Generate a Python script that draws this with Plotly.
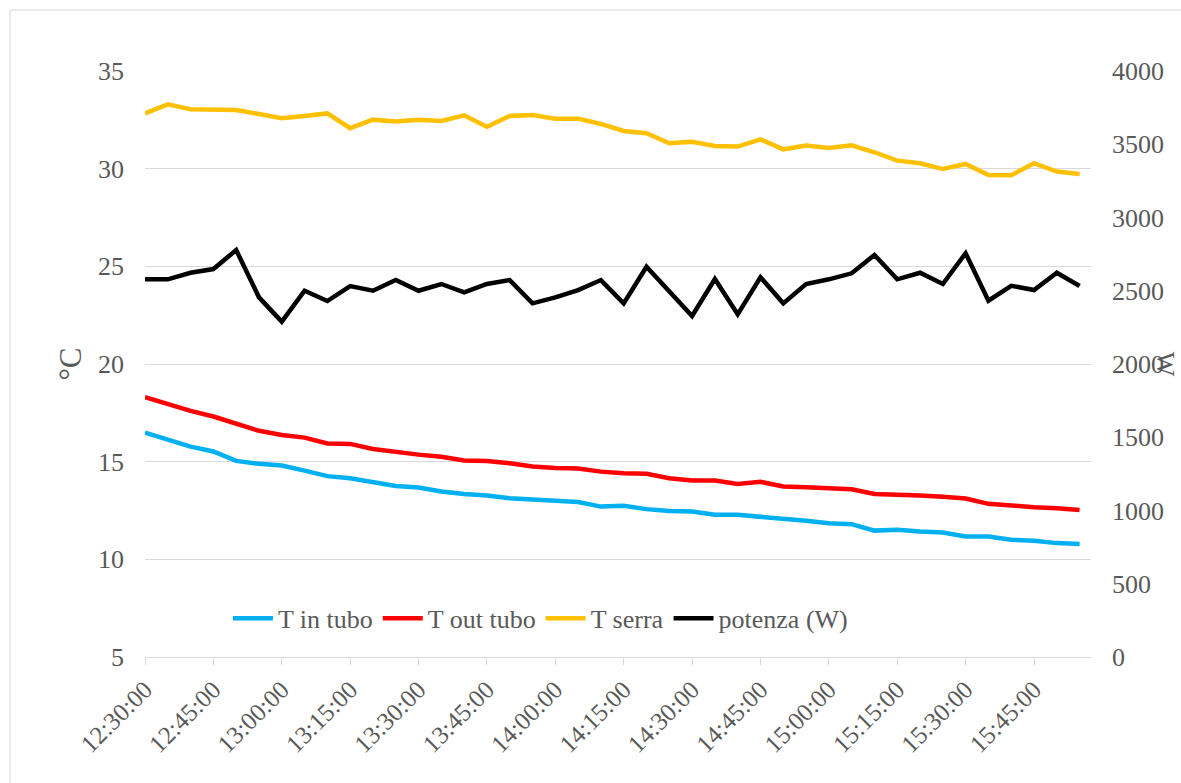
import plotly.graph_objects as go

# orari di misura (ogni 5 minuti)
orari = ["12:30:00", "12:35:00", "12:40:00", "12:45:00", "12:50:00", "12:55:00",
         "13:00:00", "13:05:00", "13:10:00", "13:15:00", "13:20:00", "13:25:00",
         "13:30:00", "13:35:00", "13:40:00", "13:45:00", "13:50:00", "13:55:00",
         "14:00:00", "14:05:00", "14:10:00", "14:15:00", "14:20:00", "14:25:00",
         "14:30:00", "14:35:00", "14:40:00", "14:45:00", "14:50:00", "14:55:00",
         "15:00:00", "15:05:00", "15:10:00", "15:15:00", "15:20:00", "15:25:00",
         "15:30:00", "15:35:00", "15:40:00", "15:45:00", "15:50:00", "15:55:00"]

t_in_tubo = [16.49, 16.12, 15.77, 15.52, 15.04, 14.89, 14.80, 14.54, 14.26, 14.15,
             13.98, 13.76, 13.68, 13.47, 13.35, 13.27, 13.13, 13.05, 12.96, 12.93,
             12.70, 12.74, 12.57, 12.48, 12.45, 12.28, 12.28, 12.19, 12.11, 11.97,
             11.85, 11.80, 11.47, 11.51, 11.42, 11.37, 11.17, 11.17, 11.00, 10.95,
             10.83, 10.79]

t_out_tubo = [18.30, 17.94, 17.60, 17.31, 16.97, 16.58, 16.37, 16.23, 15.93, 15.91,
              15.65, 15.49, 15.36, 15.25, 15.06, 15.03, 14.92, 14.75, 14.67, 14.65,
              14.49, 14.41, 14.38, 14.15, 14.03, 14.03, 13.86, 13.97, 13.73, 13.69,
              13.62, 13.59, 13.35, 13.32, 13.27, 13.20, 13.11, 12.84, 12.74, 12.67,
              12.62, 12.53]

t_serra = [32.83, 33.29, 33.04, 33.02, 33.00, 32.80, 32.58, 32.70, 32.83, 32.07,
           32.51, 32.42, 32.51, 32.44, 32.73, 32.15, 32.70, 32.75, 32.56, 32.56,
           32.29, 31.93, 31.81, 31.30, 31.38, 31.16, 31.13, 31.50, 30.99, 31.18,
           31.06, 31.20, 30.84, 30.41, 30.28, 29.98, 30.24, 29.68, 29.66, 30.28,
           29.85, 29.73]

potenza = [2578, 2578, 2623, 2648, 2778, 2455, 2289, 2500, 2430, 2532,
           2500, 2573, 2500, 2546, 2489, 2546, 2573, 2414, 2455, 2505,
           2573, 2414, 2664, 2496, 2328, 2580, 2339, 2592, 2414, 2546,
           2578, 2619, 2744, 2578, 2623, 2546, 2756, 2432, 2534, 2505,
           2623, 2532]

etichette_x = orari[::3]

FONT = "Liberation Serif, Times New Roman, serif"
GRIGIO = "#595959"
GRIGLIA = "#d9d9d9"
SPESSORE = 4.5

fig = go.Figure()
fig.add_trace(go.Scatter(x=orari, y=t_in_tubo, name="T in tubo", mode="lines",
                         line=dict(color="#00B0F0", width=SPESSORE)))
fig.add_trace(go.Scatter(x=orari, y=t_out_tubo, name="T out tubo", mode="lines",
                         line=dict(color="#FF0000", width=SPESSORE)))
fig.add_trace(go.Scatter(x=orari, y=t_serra, name="T serra", mode="lines",
                         line=dict(color="#FFC000", width=SPESSORE)))
fig.add_trace(go.Scatter(x=orari, y=potenza, name="potenza (W)", mode="lines",
                         line=dict(color="#000000", width=SPESSORE), yaxis="y2"))

fig.update_layout(
    width=1181, height=783,
    margin=dict(l=145, r=90, t=71, b=126),
    paper_bgcolor="white", plot_bgcolor="white",
    font=dict(family=FONT, size=26, color=GRIGIO),
    xaxis=dict(type="category", range=[0, 41.5], tickvals=etichette_x,
               ticktext=etichette_x, tickangle=-45, showgrid=False,
               showline=True, linecolor=GRIGLIA, linewidth=1,
               ticks="outside", ticklen=7, tickcolor=GRIGLIA,
               tickfont=dict(size=25)),
    yaxis=dict(range=[5, 35], dtick=5, showgrid=True, gridcolor=GRIGLIA,
               zeroline=False, showline=False, ticklabelstandoff=20,
               title=dict(text="°C", standoff=7)),
    yaxis2=dict(range=[0, 4000], dtick=500, overlaying="y", side="right",
                showgrid=False, zeroline=False, showline=False,
                ticklabelstandoff=20),
    legend=dict(orientation="h", x=0.418, y=0.066, xanchor="center",
                yanchor="middle", bgcolor="rgba(0,0,0,0)",
                font=dict(size=26), itemwidth=40),
    showlegend=True,
)

# titolo asse destro
fig.add_annotation(text="W", xref="paper", yref="paper", x=1.097, y=0.5,
                   textangle=90, showarrow=False, font=dict(size=26, color=GRIGIO))

# bordo dell'area grafico
fig.add_shape(type="rect", xref="paper", yref="paper", x0=-0.1427, x1=1.2,
              y0=-0.4, y1=1.104, line=dict(color=GRIGLIA, width=1), layer="below")

fig.write_html("out.html", config={"displayModeBar": False},
               post_script="document.body.style.margin='0';")
